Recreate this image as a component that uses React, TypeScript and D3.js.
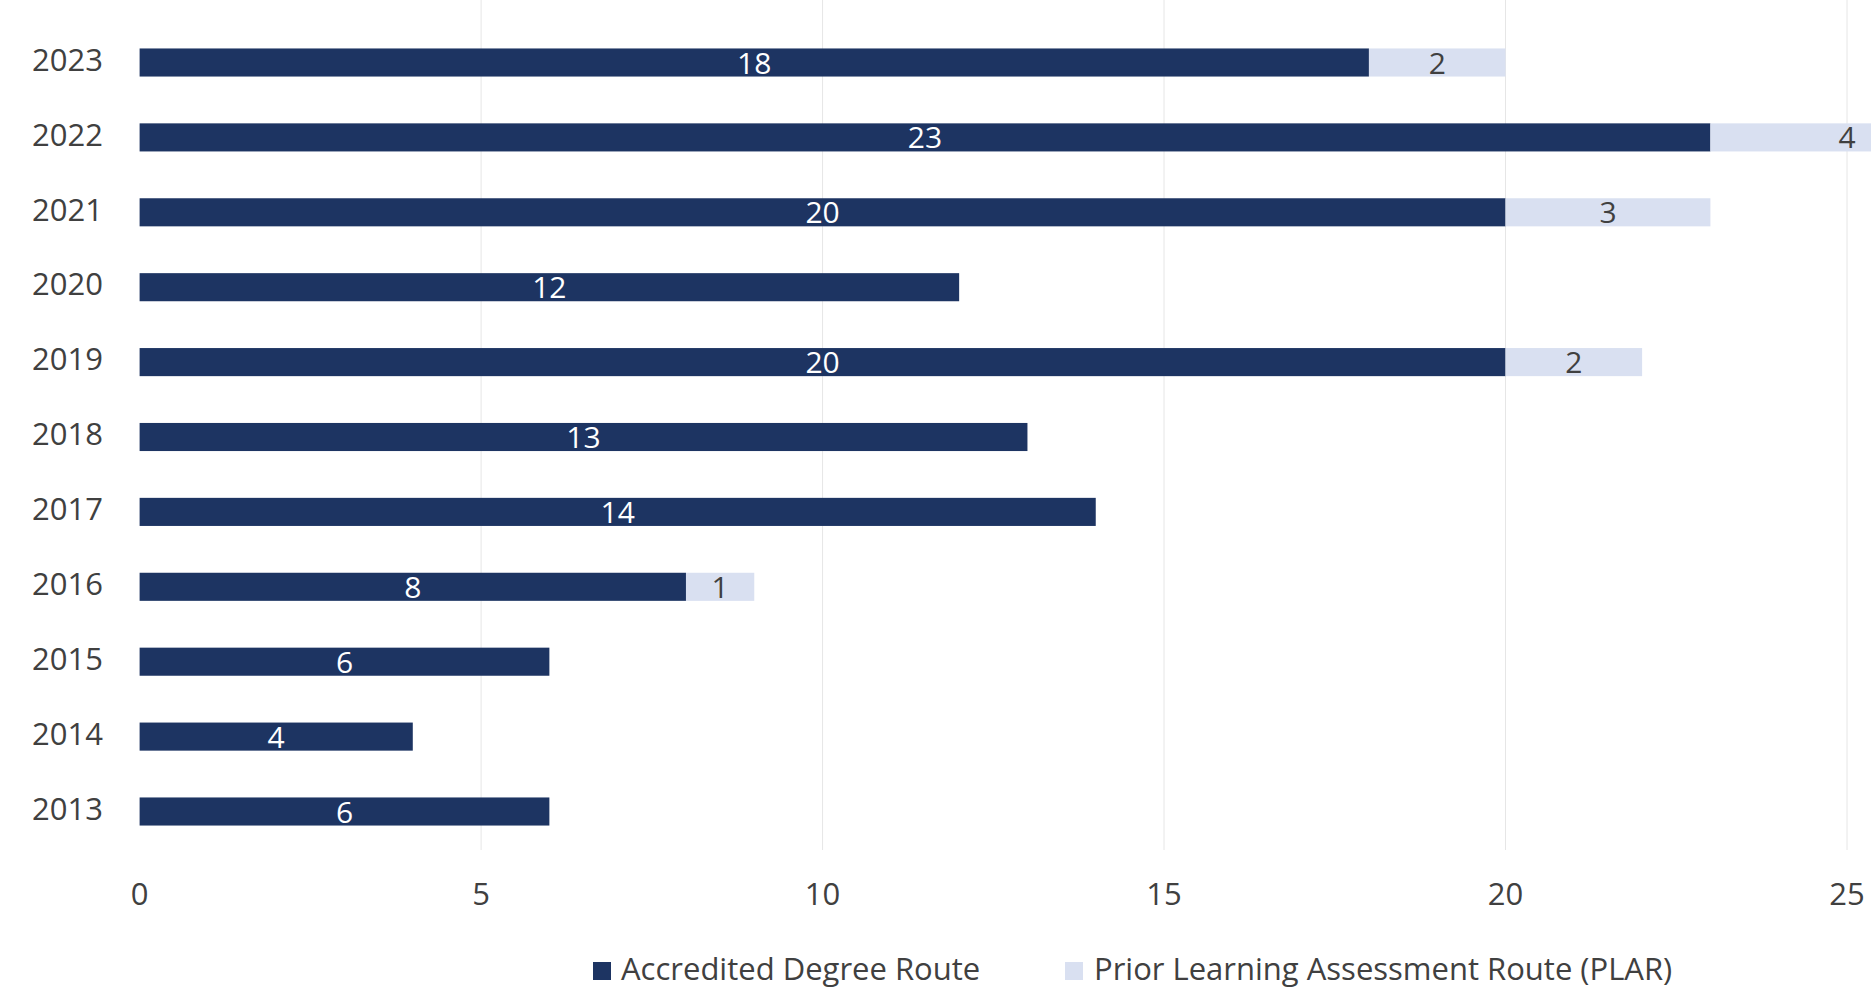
import React from "react";
import * as d3 from "d3";

const years = ["2023", "2022", "2021", "2020", "2019", "2018", "2017", "2016", "2015", "2014", "2013"];
const accredited = [18, 23, 20, 12, 20, 13, 14, 8, 6, 4, 6];
const plar = [2, 4, 3, 0, 2, 0, 0, 1, 0, 0, 0];
const xTicks = [0, 5, 10, 15, 20, 25];
const seriesNames = ["Accredited Degree Route", "Prior Learning Assessment Route (PLAR)"];

const W = 1871;
const H = 993;
const DARK = "#1d3462";
const LIGHT = "#d9e0f1";
const FONT = "'Open Sans', 'Noto Sans', sans-serif";

export default function App() {
  const x = d3.scaleLinear().domain([0, 25]).range([139.6, 1847]);
  const step = 74.9;
  const p = 0.625;
  const y = d3
    .scaleBand<string>()
    .domain(years)
    .range([62.5 - step / 2, 811.5 + step / 2])
    .paddingInner(p)
    .paddingOuter(p / 2);
  const bw = y.bandwidth();
  const gridTop = 0;
  const gridBottom = 850;

  return (
    <div style={{ position: "absolute", left: 0, top: 0 }}>
      <svg width={W} height={H} style={{ display: "block", background: "#fff" }}>
        {xTicks.slice(1).map((t) => (
          <line key={"g" + t} x1={x(t)} x2={x(t)} y1={gridTop} y2={gridBottom} stroke="#e6e6e6" strokeWidth={1} />
        ))}
        {years.map((yr, i) => {
          const y0 = y(yr)!;
          const a = accredited[i];
          const b = plar[i];
          return (
            <g key={yr}>
              <rect x={x(0)} y={y0} width={x(a) - x(0)} height={bw} fill={DARK} />
              {b > 0 && <rect x={x(a)} y={y0} width={x(a + b) - x(a)} height={bw} fill={LIGHT} />}
              <text
                x={(x(0) + x(a)) / 2}
                y={y0 + bw / 2 + 3}
                textAnchor="middle"
                dominantBaseline="middle"
                fill="#ffffff"
                fontFamily={FONT}
                fontSize={30}
              >
                {a}
              </text>
              {b > 0 && (
                <text
                  x={(x(a) + x(a + b)) / 2}
                  y={y0 + bw / 2 + 3}
                  textAnchor="middle"
                  dominantBaseline="middle"
                  fill="#404040"
                  fontFamily={FONT}
                  fontSize={30}
                >
                  {b}
                </text>
              )}
              <text
                x={103}
                y={y0 + bw / 2}
                textAnchor="end"
                dominantBaseline="middle"
                fill="#404040"
                fontFamily={FONT}
                fontSize={31}
              >
                {yr}
              </text>
            </g>
          );
        })}
        {xTicks.map((t) => (
          <text
            key={"t" + t}
            x={x(t)}
            y={897}
            textAnchor="middle"
            dominantBaseline="middle"
            fill="#404040"
            fontFamily={FONT}
            fontSize={31}
          >
            {t}
          </text>
        ))}
        <g>
          <rect x={593} y={962} width={18} height={18} fill={DARK} />
          <text x={621} y={972} dominantBaseline="middle" fill="#404040" fontFamily={FONT} fontSize={31}>
            {seriesNames[0]}
          </text>
          <rect x={1065} y={962} width={18} height={18} fill={LIGHT} />
          <text x={1094} y={972} dominantBaseline="middle" fill="#404040" fontFamily={FONT} fontSize={31}>
            {seriesNames[1]}
          </text>
        </g>
      </svg>
    </div>
  );
}
